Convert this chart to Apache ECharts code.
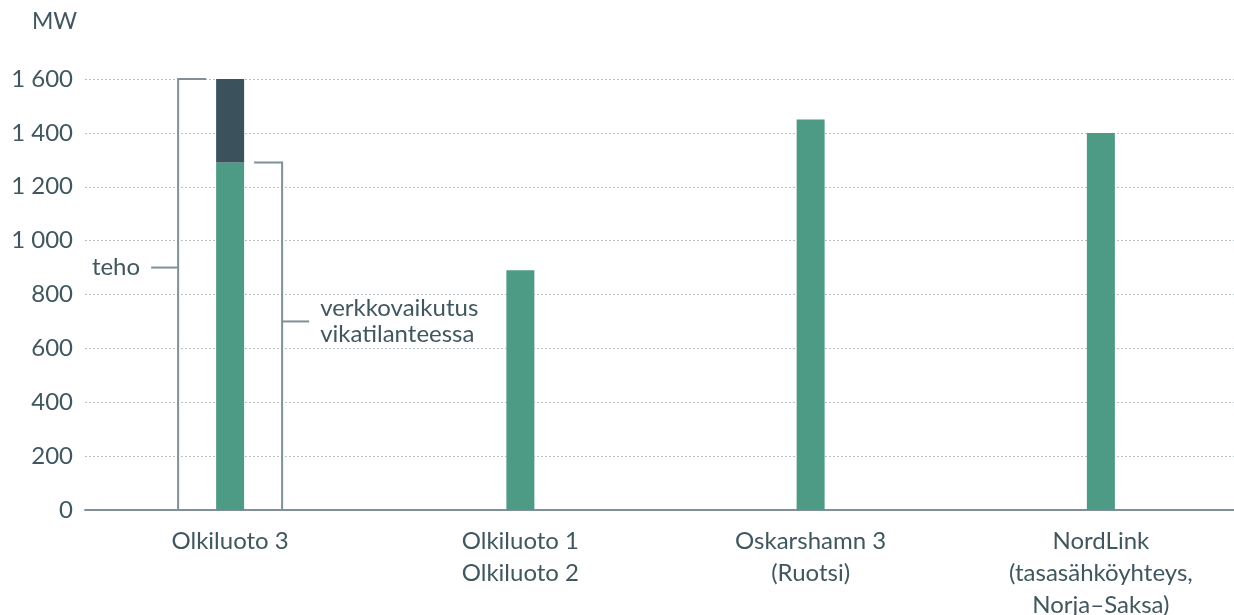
<!DOCTYPE html>
<html>
<head>
<meta charset="utf-8">
<script src="https://cdn.jsdelivr.net/npm/echarts@6/dist/echarts.min.js"></script>
<style>
  html, body { margin: 0; padding: 0; background: #fff; }
  #chart { width: 1234px; height: 615px; }
</style>
</head>
<body>
<div id="chart"></div>
<script>
const categories = [
    "Olkiluoto 3",
    "Olkiluoto 1\nOlkiluoto 2",
    "Oskarshamn 3\n(Ruotsi)",
    "NordLink\n(tasasähköyhteys,\nNorja–Saksa)",
];
const baseValues = [1290, 890, 1450, 1400];
const extraValues = [310, null, null, null];
// brackets on Olkiluoto 3
const bracketStarts = [0, 0];
const bracketEnds = [1600, 1290];
const bracketTicks = [900, 700];
const bracketSides = [-1, 1];
const bracketLabels = ["teho", "verkkovaikutus\nvikatilanteessa"];
const yTicks = [0, 200, 400, 600, 800, 1000, 1200, 1400, 1600];

const textColor = "#41575f";
const lineColor = "#7f9099";
const fontFamily = "Lato, 'Open Sans', sans-serif";

function fmt(v) {
    return String(v).replace(/\B(?=(\d{3})+(?!\d))/g, " ");
}

const bracketData = bracketStarts.map((s, i) => [0, s, bracketEnds[i], bracketTicks[i], bracketSides[i], bracketLabels[i]]);

var myChart = echarts.init(document.getElementById("chart"));
option = {
    animation: false,
    graphic: [
        {
            type: "text",
            left: 32,
            top: 10,
            style: { text: "MW", fill: textColor, font: "23px " + fontFamily },
        },
    ],
    grid: { left: 85, right: -12, top: 79, bottom: 105, outerBoundsMode: "none", containLabel: false },
    xAxis: {
        type: "category",
        data: categories,
        axisLine: { lineStyle: { color: lineColor, width: 2 } },
        axisTick: { show: false },
        axisLabel: {
            color: textColor,
            fontSize: 24,
            fontFamily: fontFamily,
            lineHeight: 32,
            margin: 15,
            interval: 0,
        },
    },
    yAxis: {
        type: "value",
        min: yTicks[0],
        max: yTicks[yTicks.length - 1],
        interval: 200,
        axisLine: { show: false },
        axisTick: { show: false },
        splitLine: { lineStyle: { color: "#b5bfc4", type: [2, 2], width: 1 } },
        axisLabel: {
            color: textColor,
            fontSize: 24,
            fontFamily: fontFamily,
            margin: 12,
            formatter: fmt,
        },
    },
    series: [
        {
            name: "base",
            type: "bar",
            stack: "p",
            data: baseValues,
            barWidth: 28,
            itemStyle: { color: "#4d9a85" },
        },
        {
            name: "extra",
            type: "bar",
            stack: "p",
            data: extraValues,
            barWidth: 28,
            itemStyle: { color: "#3b525c" },
        },
        {
            name: "brackets",
            type: "custom",
            z: 5,
            data: bracketData,
            renderItem: function (params, api) {
                const cat = api.value(0);
                const bottom = api.coord([cat, api.value(1)]);
                const top = api.coord([cat, api.value(2)]);
                const tick = api.coord([cat, api.value(3)]);
                const side = api.value(4);
                const label = bracketData[params.dataIndex][5];
                const cx = bottom[0];
                const vx = cx + side * 52;
                const hx = cx + side * 24;
                const tx = vx + side * 27;
                const style = { stroke: lineColor, lineWidth: 2, fill: null };
                return {
                    type: "group",
                    children: [
                        { type: "polyline", shape: { points: [[hx, top[1]], [vx, top[1]], [vx, bottom[1]], [hx, bottom[1]]] }, style: style },
                        { type: "line", shape: { x1: vx, y1: tick[1], x2: tx, y2: tick[1] }, style: style },
                        {
                            type: "text",
                            x: tx + side * 11,
                            y: tick[1],
                            style: {
                                text: label,
                                fill: textColor,
                                font: "24px " + fontFamily,
                                lineHeight: 26,
                                align: side < 0 ? "right" : "left",
                                verticalAlign: "middle",
                            },
                        },
                    ],
                };
            },
        },
    ],
};
myChart.setOption(option, true);
</script>
</body>
</html>
